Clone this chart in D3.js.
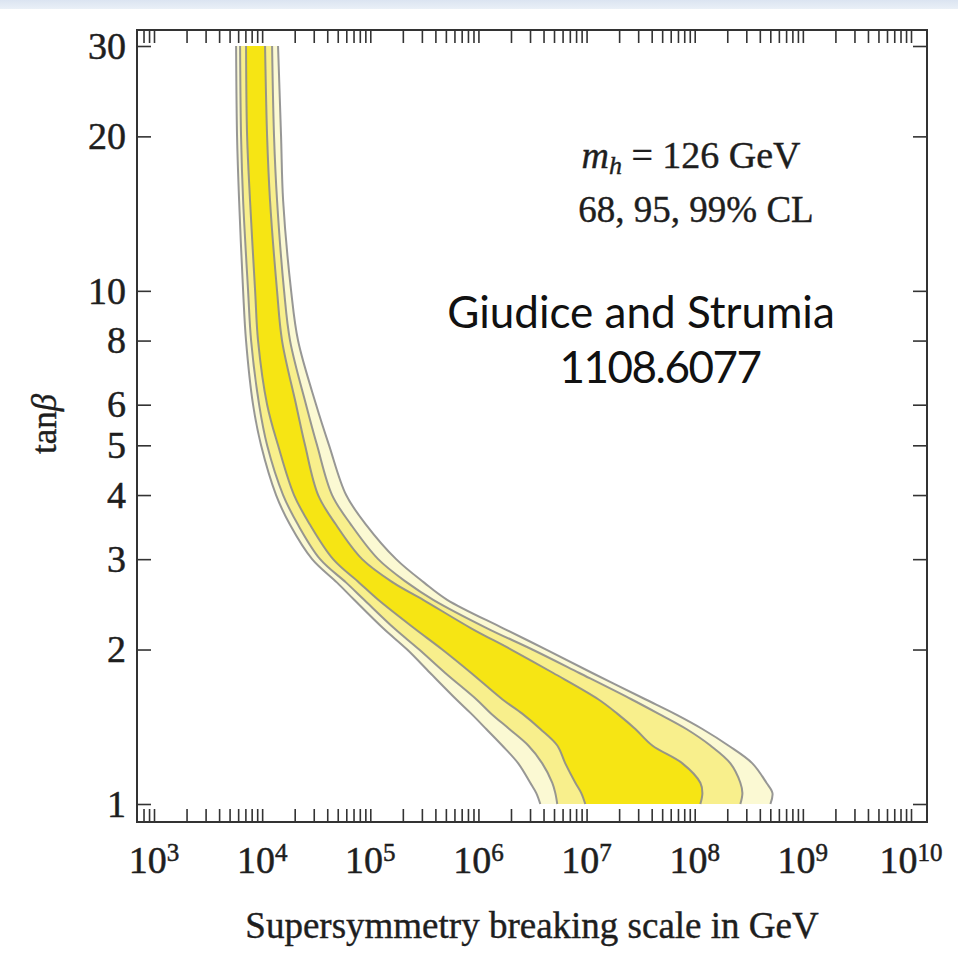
<!DOCTYPE html>
<html>
<head>
<meta charset="utf-8">
<script src="https://cdn.jsdelivr.net/npm/d3@7"></script>
<style>
  html, body { margin: 0; padding: 0; background: #ffffff; }
  svg { display: block; }
</style>
</head>
<body>
<svg id="chart" width="958" height="962"></svg>
<script>
// ---------------- data ----------------
// tan(beta) sample rows, bottom to top
const tanBeta = [1, 1.05, 1.1, 1.2, 1.3, 1.4, 1.5, 1.6, 1.8, 2, 2.2, 2.5, 2.7, 3, 3.5, 4, 5, 6, 8, 10, 15, 20, 30];
// contour boundaries, log10 of the SUSY breaking scale in GeV
const cl99Left  = [6.572, 6.535, 6.479, 6.368, 6.220, 6.072, 5.933, 5.794, 5.554, 5.341, 5.119, 4.851, 4.693, 4.462, 4.258, 4.129, 3.990, 3.916, 3.851, 3.824, 3.787, 3.768, 3.759];
const cl95Left  = [6.729, 6.711, 6.683, 6.590, 6.461, 6.285, 6.118, 5.980, 5.693, 5.452, 5.221, 4.943, 4.777, 4.536, 4.332, 4.194, 4.046, 3.972, 3.898, 3.870, 3.824, 3.805, 3.796];
const cl68Left  = [6.988, 6.951, 6.896, 6.803, 6.729, 6.572, 6.405, 6.220, 5.933, 5.665, 5.406, 5.073, 4.897, 4.656, 4.443, 4.295, 4.147, 4.046, 3.962, 3.935, 3.888, 3.861, 3.851];
const cl68Right = [8.052, 8.071, 8.052, 7.886, 7.608, 7.451, 7.284, 7.108, 6.692, 6.303, 5.933, 5.489, 5.212, 4.925, 4.684, 4.518, 4.397, 4.314, 4.184, 4.138, 4.073, 4.046, 4.027];
const cl95Right = [8.422, 8.441, 8.422, 8.330, 8.145, 7.923, 7.664, 7.414, 6.933, 6.498, 6.081, 5.582, 5.341, 5.073, 4.823, 4.647, 4.508, 4.406, 4.258, 4.203, 4.138, 4.110, 4.092];
const cl99Right = [8.700, 8.719, 8.663, 8.533, 8.311, 8.071, 7.812, 7.543, 7.053, 6.627, 6.229, 5.711, 5.498, 5.239, 4.962, 4.777, 4.619, 4.499, 4.332, 4.268, 4.194, 4.175, 4.147];

const xTickExponents = [3, 4, 5, 6, 7, 8, 9, 10];
const yTickValues = [1, 2, 3, 4, 5, 6, 8, 10, 20, 30];

const xTitle = "Supersymmetry breaking scale in GeV";
const noteLine2 = "68, 95, 99% CL";
const creditLine1 = "Giudice and Strumia";
const creditLine2 = "1108.6077";

// ---------------- layout ----------------
const svg = d3.select("#chart");
const frame = { left: 137, right: 927, top: 30, bottom: 822 };
const serif = "'Liberation Serif', 'DejaVu Serif', serif";
const ink = "#333333";
const textInk = "#1e1e1e";

// light blue strip along the very top of the slide
const defs = svg.append("defs");
const grad = defs.append("linearGradient").attr("id", "strip").attr("x1", 0).attr("y1", 0).attr("x2", 0).attr("y2", 1);
grad.append("stop").attr("offset", "0%").attr("stop-color", "#dbe4f1");
grad.append("stop").attr("offset", "100%").attr("stop-color", "#eaf0f7");
svg.append("rect").attr("x", 0).attr("y", 0).attr("width", 958).attr("height", 9)
  .attr("fill", "url(#strip)");

const x = d3.scaleLog().domain([1e3, 1e10]).range([154, 911]);
const y = d3.scaleLog().domain([1, 30]).range([804, 46]);

const rows = tanBeta.map((t, i) => ({
  t,
  l99: cl99Left[i], l95: cl95Left[i], l68: cl68Left[i],
  r68: cl68Right[i], r95: cl95Right[i], r99: cl99Right[i]
}));

const curve = d3.curveCatmullRom.alpha(0.5);
const bandArea = (lk, rk) => d3.area()
  .curve(curve)
  .y(d => y(d.t))
  .x0(d => x(Math.pow(10, d[lk])))
  .x1(d => x(Math.pow(10, d[rk])));

const levels = [
  { l: "l99", r: "r99", fill: "#fbf9d3" },
  { l: "l95", r: "r95", fill: "#f8ef8c" },
  { l: "l68", r: "r68", fill: "#f6e514" }
];
const gBands = svg.append("g");
levels.forEach(lv => {
  gBands.append("path").datum(rows)
    .attr("d", bandArea(lv.l, lv.r))
    .attr("fill", lv.fill);
});

const boundaryLine = k => d3.line()
  .curve(curve)
  .x(d => x(Math.pow(10, d[k])))
  .y(d => y(d.t));
["l99", "l95", "l68", "r68", "r95", "r99"].forEach(k => {
  gBands.append("path").datum(rows)
    .attr("d", boundaryLine(k))
    .attr("fill", "none")
    .attr("stroke", "#8c8c8c")
    .attr("stroke-width", 2)
    .attr("stroke-opacity", 0.9);
});

// ---------------- axes ----------------
const xFrame = x.copy().domain([x.invert(frame.left), x.invert(frame.right)]).range([frame.left, frame.right]);
const xMinor = xFrame.ticks().filter(v => x(v) >= frame.left + 1 && x(v) <= frame.right - 1);

function styleAxis(g) {
  g.select(".domain").remove();
  g.selectAll(".tick line").attr("stroke", ink).attr("stroke-width", 1.6);
}

svg.append("g").attr("transform", `translate(0,${frame.bottom})`)
  .call(d3.axisBottom(x).tickValues(xMinor).tickSize(-13).tickFormat(""))
  .call(styleAxis);
svg.append("g").attr("transform", `translate(0,${frame.top})`)
  .call(d3.axisTop(x).tickValues(xMinor).tickSize(-13).tickFormat(""))
  .call(styleAxis);

svg.append("g").attr("transform", `translate(${frame.left},0)`)
  .call(d3.axisLeft(y).tickValues(yTickValues).tickSize(-14).tickPadding(11).tickFormat(d3.format("d")))
  .call(styleAxis)
  .call(g => g.selectAll(".tick text")
    .attr("font-family", serif).attr("font-size", 38).attr("fill", textInk)
    .attr("stroke", textInk).attr("stroke-width", 0.5));
svg.append("g").attr("transform", `translate(${frame.right},0)`)
  .call(d3.axisRight(y).tickValues(yTickValues).tickSize(-14).tickFormat(""))
  .call(styleAxis);

// frame
svg.append("rect")
  .attr("x", frame.left).attr("y", frame.top)
  .attr("width", frame.right - frame.left).attr("height", frame.bottom - frame.top)
  .attr("fill", "none").attr("stroke", ink).attr("stroke-width", 2);

// x tick labels 10^n
const xl = svg.append("g").attr("font-family", serif).attr("fill", textInk)
  .attr("stroke", textInk).attr("stroke-width", 0.5);
xTickExponents.forEach(e => {
  const t = xl.append("text")
    .attr("x", x(Math.pow(10, e)))
    .attr("y", 873)
    .attr("text-anchor", "middle")
    .attr("font-size", 38);
  t.append("tspan").text("10");
  t.append("tspan").attr("font-size", 25).attr("dy", -12).text(String(e));
});

// axis titles
svg.append("text")
  .attr("x", (frame.left + frame.right) / 2).attr("y", 938)
  .attr("text-anchor", "middle")
  .attr("font-family", serif).attr("font-size", 37).attr("fill", textInk)
  .attr("stroke", textInk).attr("stroke-width", 0.4)
  .text(xTitle);

const yt = svg.append("text")
  .attr("transform", "translate(56,424) rotate(-90)")
  .attr("text-anchor", "middle")
  .attr("font-family", serif).attr("font-size", 35).attr("fill", textInk)
  .attr("stroke", textInk).attr("stroke-width", 0.4);
yt.append("tspan").text("tan");
yt.append("tspan").attr("font-style", "italic").text("β");

// annotations
const n1 = svg.append("text")
  .attr("x", 691).attr("y", 168)
  .attr("text-anchor", "middle")
  .attr("font-family", serif).attr("font-size", 38).attr("fill", textInk)
  .attr("stroke", textInk).attr("stroke-width", 0.4);
n1.append("tspan").attr("font-style", "italic").text("m");
n1.append("tspan").attr("font-style", "italic").attr("font-size", 26).attr("dy", 6).text("h");
n1.append("tspan").attr("dy", -6).text(" = 126 GeV");

svg.append("text")
  .attr("x", 696).attr("y", 222)
  .attr("text-anchor", "middle")
  .attr("font-family", serif).attr("font-size", 37).attr("fill", textInk)
  .attr("stroke", textInk).attr("stroke-width", 0.4)
  .text(noteLine2);

const sans = "Lato, 'Open Sans', sans-serif";
svg.append("text")
  .attr("x", 641).attr("y", 328)
  .attr("text-anchor", "middle")
  .attr("font-family", sans).attr("font-size", 44).attr("fill", "#111")
  .text(creditLine1);
svg.append("text")
  .attr("x", 660).attr("y", 383)
  .attr("text-anchor", "middle")
  .attr("font-family", sans).attr("font-size", 44).attr("letter-spacing", -1.5).attr("fill", "#111")
  .text(creditLine2);
</script>
</body>
</html>
